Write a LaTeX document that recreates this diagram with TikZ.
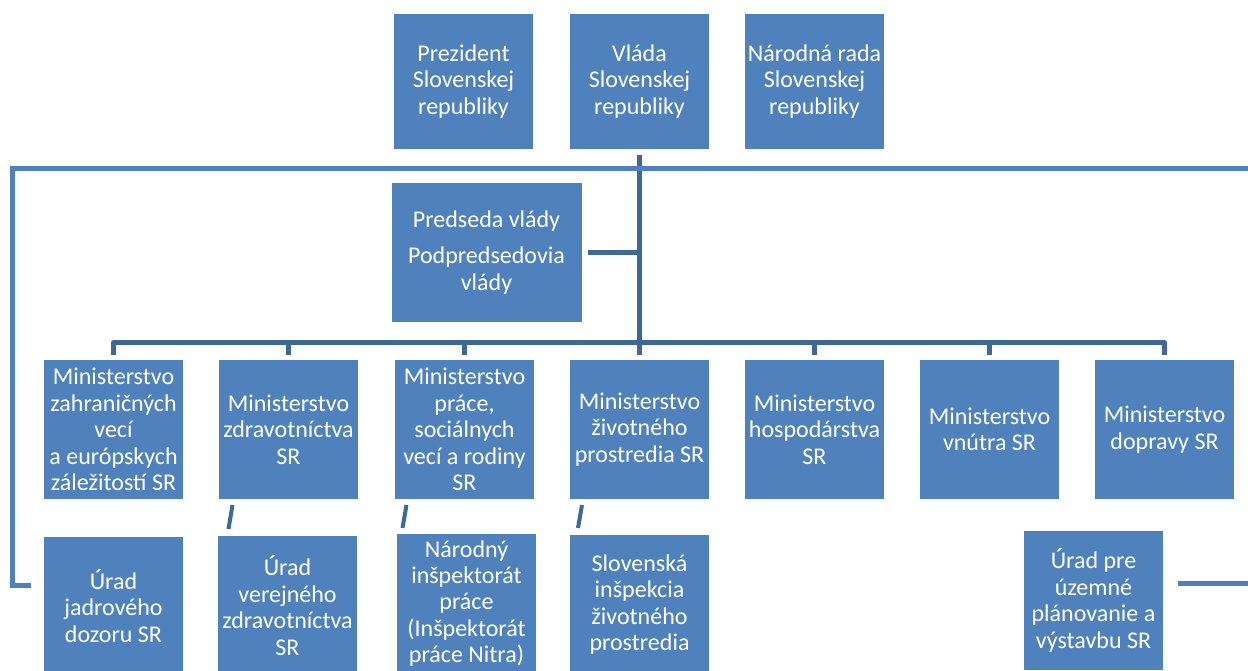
\documentclass[tikz,border=0pt]{standalone}
\usepackage{fontspec}
\setmainfont{Carlito}
\definecolor{boxblue}{HTML}{4F81BD}
\definecolor{linedark}{HTML}{3E6898}
\tikzset{
  orgbox/.style={fill=boxblue, draw=none, text=white, align=center, inner sep=0pt,
    minimum width=139pt, minimum height=139pt,
    font=\fontsize{24}{26.4}\selectfont},
  topbox/.style={orgbox, minimum height=135pt},
  dk/.style={draw=linedark, line width=5pt},
  lt/.style={draw=boxblue, line width=5pt, line join=miter},
  tick/.style={draw=linedark, line width=4pt}
}
\begin{document}
\begin{tikzpicture}[x=1pt,y=-1pt]
\useasboundingbox (0,0) rectangle (1248,671);
\clip (0,0) rectangle (1248,671);
% top row
\node[topbox] (prez) at (463.5,81.5) {Prezident\\Slovenskej\\republiky};
\node[topbox] (vlada) at (639.5,81.5) {Vláda\\Slovenskej\\republiky};
\node[topbox] (nrsr) at (814.5,81.5) {Národná rada\\Slovenskej\\republiky};
% Predseda
\node[orgbox, minimum width=190pt] (pv) at (486.5,252.5) {Predseda vlády\\[9.5pt]Podpredsedovia\\vlády};
% ministries
\node[orgbox] (m1) at (113.5,429.5) {Ministerstvo\\zahraničných\\vecí\\a európskych\\záležitostí SR};
\node[orgbox] (m2) at (288.5,429.5) {Ministerstvo\\zdravotníctva\\SR};
\node[orgbox] (m3) at (464.5,429.5) {Ministerstvo\\práce,\\sociálnych\\vecí a rodiny\\SR};
\node[orgbox] (m4) at (639.5,429.5) {Ministerstvo\\životného\\prostredia SR};
\node[orgbox] (m5) at (814.5,429.5) {Ministerstvo\\hospodárstva\\SR};
\node[orgbox] (m6) at (989.5,429.5) {Ministerstvo\\vnútra SR};
\node[orgbox] (m7) at (1164.5,429.5) {Ministerstvo\\dopravy SR};
% bottom row
\node[orgbox] (jadr) at (113.5,606) {Úrad\\jadrového\\dozoru SR};
\node[orgbox] (verej) at (287.5,605.5) {Úrad\\verejného\\zdravotníctva\\SR};
\node[orgbox] (nip) at (466.5,603.5) {Národný\\inšpektorát\\práce\\(Inšpektorát\\práce Nitra)};
\node[orgbox] (sizp) at (639.5,604.5) {Slovenská\\inšpekcia\\životného\\prostredia};
\node[orgbox] (upsr) at (1093.5,600.5) {Úrad pre\\územné\\plánovanie a\\výstavbu SR};
% connectors
\draw[dk] ([yshift=-6pt]vlada.south) -- ([yshift=5pt]m4.north);
\draw[dk] ([xshift=6pt]pv.east) -- (pv.east -| vlada.south);
\draw[dk, line join=round] ([yshift=5pt]m1.north) |- ([yshift=17pt]m7.north) -- ([yshift=5pt]m7.north);
\foreach \m in {m2,m3,m5,m6} {
  \draw[dk] ([yshift=5pt]\m.north) -- ([yshift=17pt]\m.north);
}
\coordinate (trEnd) at (1248,169);
\coordinate (tlCorner) at (12,169);
\coordinate (blCorner) at (12,585);
\coordinate (jadrIn) at (31,585);
\draw[lt] (trEnd) -- (tlCorner) -- (blCorner) -- (jadrIn);
\coordinate (upOut) at (1178,583);
\coordinate (upEnd) at (1248,583);
\draw[lt] (upOut) -- (upEnd);
% small slanted marks
\coordinate (d1a) at (232.5,505); \coordinate (d1b) at (228.5,529);
\coordinate (d2a) at (406.5,505); \coordinate (d2b) at (402.5,528);
\coordinate (d3a) at (582,505); \coordinate (d3b) at (578,528);
\draw[tick] (d1a) -- (d1b);
\draw[tick] (d2a) -- (d2b);
\draw[tick] (d3a) -- (d3b);
\end{tikzpicture}
\end{document}
